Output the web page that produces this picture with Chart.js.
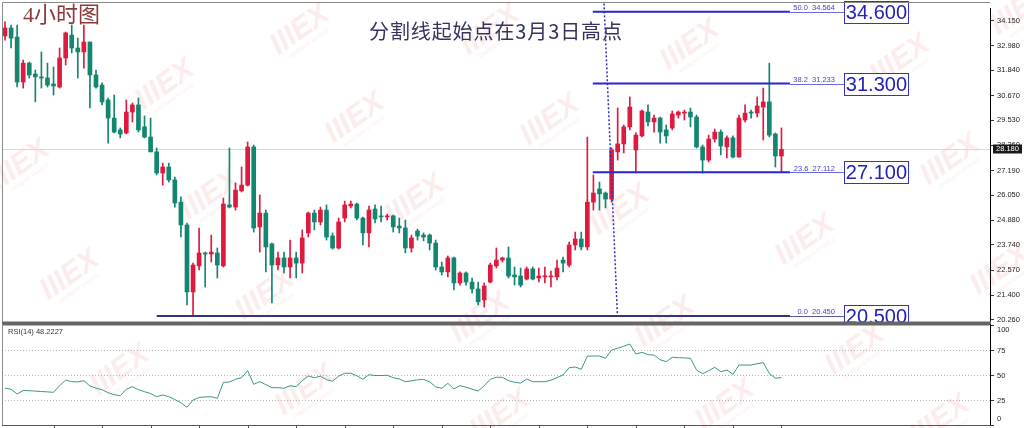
<!DOCTYPE html>
<html><head><meta charset="utf-8">
<script src="https://cdn.jsdelivr.net/npm/chart.js@4.4.1/dist/chart.umd.min.js"></script>
<style>
html,body{margin:0;padding:0;background:#fff;overflow:hidden}
#wrap{position:relative;width:1024px;height:428px;overflow:hidden}
canvas{position:absolute;left:0}
#c1{top:0}
#c2{top:324px}
.t{position:absolute;white-space:nowrap;line-height:1}
</style></head><body>
<div id="wrap">
<canvas id="c1" width="1024" height="324"></canvas>
<canvas id="c2" width="1024" height="104"></canvas>
<div class="t" style="left:23px;top:4px;font-size:22px;font-family:'Liberation Serif','Noto Sans CJK SC';color:#8b3a3a">4小时图</div>
<div class="t" style="left:369px;top:21px;font-size:20px;letter-spacing:0.9px;font-family:'Noto Sans CJK SC';color:#34345e">分割线起始点在3月3日高点</div>
</div>
<script>
// ---- data ----
const opens  = [33.44,33.81,33.39,31.30,32.18,31.67,31.54,31.49,31.21,31.07,32.42,33.48,32.88,32.70,33.16,31.63,31.16,30.47,29.63,29.08,28.94,29.91,30.24,29.22,28.75,28.06,27.08,27.36,26.76,25.73,24.67,21.56,22.77,23.37,23.32,23.37,22.77,25.60,25.50,26.25,26.52,28.29,24.58,25.22,23.79,22.81,23.14,22.72,23.14,22.90,24.30,25.22,24.81,25.36,24.16,23.60,24.99,25.55,25.64,24.99,24.30,25.41,25.09,25.04,25.09,24.62,24.53,23.60,24.39,24.20,24.20,23.83,22.72,22.49,23.14,21.98,22.44,22.02,21.70,21.19,22.02,22.77,23.04,23.14,22.35,22.30,22.16,22.63,22.21,22.26,22.26,22.26,23.04,22.81,23.74,24.02,23.65,25.73,26.34,26.15,25.87,28.06,28.43,29.22,28.15,28.80,29.91,29.45,29.63,29.08,29.17,29.77,29.86,29.91,29.68,28.29,27.68,28.66,28.98,28.29,28.71,27.82,29.54,29.91,29.86,30.14,30.38,28.89,27.87];
const highs  = [34.09,33.95,33.95,32.32,32.23,31.86,32.70,32.18,32.00,32.88,33.62,33.95,33.34,33.95,33.16,31.86,31.26,30.56,30.70,29.17,30.47,30.33,30.56,29.73,29.63,28.24,27.54,27.54,26.89,25.97,24.76,22.90,24.53,23.41,24.20,23.60,25.92,28.24,26.62,27.36,28.52,28.38,26.06,25.36,23.83,23.41,23.41,23.97,23.41,24.44,25.27,25.36,25.50,25.60,24.30,24.99,25.78,25.78,25.69,25.04,25.55,25.60,25.55,25.18,25.13,24.99,24.90,24.20,24.48,24.30,24.25,23.97,22.95,23.23,23.18,22.49,22.49,22.21,22.02,21.98,22.90,23.60,23.18,23.65,22.72,22.67,22.72,22.72,22.67,22.72,22.53,23.04,23.18,23.88,24.34,24.34,28.75,26.99,26.66,26.20,28.24,30.10,29.31,30.61,28.94,30.00,30.24,29.77,29.68,29.31,29.96,29.96,30.00,30.10,29.77,28.38,28.84,29.12,29.08,28.80,28.80,29.77,30.24,30.00,30.61,31.02,32.18,28.94,29.17];
const lows   = [33.25,32.88,31.07,31.02,31.49,30.38,31.02,31.07,30.70,31.02,32.09,32.65,31.49,31.95,30.10,31.02,30.24,28.47,28.94,28.71,28.89,29.45,28.98,28.71,28.06,26.99,26.52,26.66,25.50,24.11,20.96,20.45,22.58,21.79,22.95,22.21,22.72,25.46,25.36,26.20,26.48,24.34,23.41,22.49,21.05,22.58,22.44,22.21,22.21,22.44,24.11,24.44,24.67,23.97,23.55,23.55,24.81,25.46,24.90,23.74,23.65,24.76,24.81,24.90,24.34,24.30,23.37,23.41,23.97,23.93,23.51,22.58,22.35,22.26,21.65,21.88,21.88,21.51,20.96,20.86,21.98,22.67,22.95,22.21,21.88,21.79,22.12,22.12,22.02,21.98,21.79,22.12,22.49,22.72,23.51,23.51,23.51,25.36,25.36,25.46,25.73,27.68,28.01,29.08,27.08,28.75,29.26,28.98,28.47,28.47,29.08,29.63,29.54,29.22,28.24,27.08,27.59,28.52,27.92,27.78,27.78,27.82,29.45,29.63,29.68,28.61,28.75,27.36,27.13];
const closes = [33.81,33.34,31.30,32.18,31.63,31.54,31.49,31.16,31.12,32.42,33.58,32.88,32.70,33.16,31.63,31.07,30.38,29.63,28.98,28.89,29.91,30.24,29.08,28.75,28.06,27.08,27.36,26.76,25.69,24.67,21.56,22.81,23.37,23.32,23.41,22.81,25.64,25.50,26.29,26.52,28.29,24.53,25.22,23.65,22.81,23.14,22.72,23.14,22.90,24.07,25.22,24.81,25.36,24.11,23.60,24.81,25.60,25.64,24.99,24.30,25.36,24.95,25.04,25.09,24.58,24.53,23.60,24.07,24.16,24.11,23.83,22.72,22.49,23.14,21.98,22.44,22.02,21.70,21.10,21.84,22.81,23.04,23.14,22.30,22.26,21.88,22.63,22.16,22.30,22.30,22.30,22.67,22.90,23.74,24.02,23.65,25.73,26.15,26.11,25.87,28.15,28.43,29.22,30.14,28.84,29.96,29.45,29.63,28.98,28.80,29.82,29.91,29.91,29.68,28.29,27.68,28.66,28.98,28.33,28.71,27.82,29.63,29.86,29.86,30.19,30.38,28.84,27.87,28.18];
const rsi = [37.5,36.5,31.7,35.2,35,34.6,34.2,33.8,33.4,40,45.7,44,43.8,45,39.7,37.5,36,33,31,30,36.5,39,36,34,32.2,29,30.7,29,26.2,23,18.4,25.7,28.2,28.8,29,27.4,43.4,43.7,46.4,48,55,41.4,44,41,38,38,37.5,40,39,45,49.7,48,49.5,46,44.5,49.5,52.4,52.4,50,46.4,51,50.2,50.2,50.4,48,46.7,44,44.8,45.9,46.3,44,38.8,37.5,42.4,36.8,40,38.5,36.5,34.7,40,46.4,48.4,48.4,45,43.5,42.6,46.7,44,44,44,45.5,48,50.8,58,58.7,56.4,69.5,69.7,69.7,67.4,75.7,77.4,79.5,81.7,71.7,73.4,71,70.7,66,64,68.4,68,67.8,67.4,55.7,52,55,58.4,54,55.7,51.4,60.7,60.7,60.7,62,63,52.4,47.4,48.2];
const priceTicks = [34.150,32.980,31.840,30.670,29.530,28.360,27.190,26.050,24.880,23.740,22.570,21.400,20.260];
const rsiTicks = [100,75,50,25,0];
const fibLevels = [34.564,31.233,27.112,20.450];
const fibPercents = ['50.0','38.2','23.6','0.0'];
const fibBoxLabels = ['34.600','31.300','27.100','20.500'];
const fibStart = [96.9,96.9,96.9,25.0];
const fibLineEnd = 129.4;
const fibBoxAt = 138.3;
const splitLine = [{x:98.75,y:34.95},{x:100.97,y:20.40}];
const lastPrice = 28.180;
const rsiLabel = 'RSI(14) 48.2227';
const xTickEvery = 8;

// ---- layout constants ----
const XMIN = -0.495, XMAX = 162.38;
const YMIN = 20.167, YMAX = 34.737;
const UP = '#de1a3f', DOWN = '#12866f';
const colors = opens.map((o,i)=> closes[i] >= o ? UP : DOWN);

const wmPos = [[20,165],[165,85],[300,30],[355,118],[210,195],[70,275],[265,295],[120,370],[305,390],[415,200],[490,30],[550,120],[620,210],[480,318],[500,415],[690,45],[900,60],[950,160],[805,240],[665,322],[725,405],[855,350],[940,420],[1020,10],[1000,270]];
function drawWatermarks(ctx, offY){
  ctx.save();
  wmPos.forEach(([x,y])=>{
    ctx.save();
    ctx.translate(x, y-offY);
    ctx.rotate(-0.62);
    ctx.textAlign='center'; ctx.textBaseline='middle';
    ctx.fillStyle='rgba(228,110,110,0.13)';
    ctx.font='bold italic 30px "Liberation Sans"';
    ctx.fillText('IIIEX',0,0);
    ctx.font='6px "Liberation Sans"';
    ctx.fillText('Intelligent Investor',0,16);
    ctx.restore();
  });
  ctx.restore();
}

const mainPlugin = {
  id:'mainPlugin',
  beforeDatasetsDraw(chart){
    const {ctx, chartArea:a, scales:{y}} = chart;
    drawWatermarks(ctx, 0);
    const py = Math.round(y.getPixelForValue(lastPrice))+0.5;
    ctx.save();
    ctx.strokeStyle='#d8d8d8'; ctx.lineWidth=1;
    ctx.beginPath(); ctx.moveTo(a.left, py); ctx.lineTo(a.right, py); ctx.stroke();
    ctx.restore();
  },
  afterDatasetsDraw(chart){
    const {ctx, scales:{x,y}} = chart;
    ctx.save();
    fibLevels.forEach((lv,k)=>{
      const py = y.getPixelForValue(lv);
      const x0 = x.getPixelForValue(fibLineEnd);
      const xb = x.getPixelForValue(fibBoxAt);
      ctx.strokeStyle = k===3 ? '#5a5a9a' : '#6b6be0'; ctx.lineWidth=1;
      ctx.beginPath(); ctx.moveTo(x0, Math.round(py)+0.5); ctx.lineTo(xb, Math.round(py)+0.5); ctx.stroke();
      ctx.font='7.5px "Liberation Sans"'; ctx.fillStyle='#4444cc';
      ctx.textAlign='right'; ctx.textBaseline='alphabetic';
      ctx.fillText(fibPercents[k]+'  '+lv.toFixed(3), xb-9, py-1.5);
      const bw=64, bh=22;
      const by = Math.round(py - bh/2)+0.5;
      ctx.fillStyle='#fff'; ctx.fillRect(xb+0.5, by, bw, bh);
      ctx.strokeStyle='#3434c4'; ctx.strokeRect(Math.round(xb)+0.5, by, bw, bh);
      ctx.fillStyle='#2222b4'; ctx.font='20px "Liberation Sans"';
      ctx.textAlign='center'; ctx.textBaseline='middle';
      ctx.fillText(fibBoxLabels[k], xb+bw/2+0.5, by+bh/2+1);
    });
    ctx.restore();
  },
  afterDraw(chart){
    const {ctx, chartArea:a, scales:{y}} = chart;
    ctx.save();
    ctx.strokeStyle='#8a8a8a'; ctx.lineWidth=1;
    ctx.beginPath(); ctx.moveTo(2.5,324); ctx.lineTo(2.5,2.5); ctx.lineTo(a.right,2.5); ctx.stroke();
    ctx.fillStyle='#666'; ctx.fillRect(2, 321.5, a.right-2+1, 2.5);
    const py = y.getPixelForValue(lastPrice);
    ctx.fillStyle='#1a1a1a'; ctx.fillRect(993, Math.round(py)-4.5, 29, 9);
    ctx.fillStyle='#fff'; ctx.font='7.5px "Liberation Sans"'; ctx.textAlign='left'; ctx.textBaseline='middle';
    ctx.fillText(lastPrice.toFixed(3), 996, Math.round(py));
    ctx.restore();
  }
};

new Chart(document.getElementById('c1'), {
  type:'bar',
  data:{datasets:[
    ...fibLevels.map((lv,k)=>({type:'line', data:[{x:fibStart[k],y:lv},{x:fibLineEnd,y:lv}], borderColor: k===3?'#34347a':'#2626d4', borderWidth:2, pointRadius:0, order:0})),
    {type:'line', data:splitLine, borderColor:'#3030c0', borderWidth:1.5, borderDash:[2,2], pointRadius:0, clip:false, order:0},
    {label:'wick', data: lows.map((l,i)=>({x:i,y:[l,highs[i]]})), backgroundColor:colors, barThickness:1, grouped:false, order:3},
    {label:'body', data: opens.map((o,i)=>({x:i,y:[o,closes[i]]})), backgroundColor:colors, barThickness:4, minBarLength:1, grouped:false, order:2}
  ]},
  options:{
    responsive:false, animation:false, events:[],
    layout:{padding:{left:2,top:8,right:0,bottom:2}},
    plugins:{legend:{display:false},tooltip:{enabled:false}},
    scales:{
      x:{type:'linear',min:XMIN,max:XMAX,offset:false,display:false},
      y:{type:'linear',position:'right',min:YMIN,max:YMAX,
         afterBuildTicks(s){s.ticks=priceTicks.map(v=>({value:v}));},
         afterFit(s){s.width=34;s.paddingTop=0;s.paddingBottom=0;},
         ticks:{callback:v=>v.toFixed(3),font:{size:7.5,family:'Liberation Sans'},color:'#222',padding:3,autoSkip:false},
         grid:{drawOnChartArea:false,tickLength:4,tickColor:'#333'},
         border:{display:true,color:'#000'}}
    }
  },
  plugins:[mainPlugin]
});

const rsiPlugin = {
  id:'rsiPlugin',
  beforeDatasetsDraw(chart){ drawWatermarks(chart.ctx, 324); },
  afterDraw(chart){
    const {ctx, chartArea:a, scales:{x,y}} = chart;
    ctx.save();
    ctx.fillStyle='#666'; ctx.fillRect(2,0,a.right-2+1,1.5);
    ctx.strokeStyle='#8a8a8a'; ctx.lineWidth=1;
    ctx.beginPath(); ctx.moveTo(2.5,0); ctx.lineTo(2.5,101.5); ctx.stroke();
    ctx.strokeStyle='#000';
    ctx.beginPath(); ctx.moveTo(a.right+0.5,0); ctx.lineTo(a.right+0.5,101.5); ctx.stroke();
    ctx.strokeStyle='#555';
    ctx.beginPath(); ctx.moveTo(2,101.5); ctx.lineTo(a.right+1,101.5); ctx.stroke();
    for(let i=xTickEvery;i<=opens.length;i+=xTickEvery){
      const px=Math.round(x.getPixelForValue(i))+0.5;
      ctx.beginPath(); ctx.moveTo(px,101.5); ctx.lineTo(px,104); ctx.stroke();
    }
    ctx.fillStyle='#222'; ctx.font='7.5px "Liberation Sans"'; ctx.textAlign='left'; ctx.textBaseline='middle';
    rsiTicks.forEach(v=>{
      let py=y.getPixelForValue(v);
      py=Math.min(Math.max(py,a.top+4.3),a.bottom-6.7);
      ctx.fillText(String(v), a.right+7, py);
    });
    ctx.fillStyle='#333'; ctx.font='7.5px "Liberation Sans"'; ctx.textBaseline='middle';
    ctx.fillText(rsiLabel, 8, 8);
    ctx.restore();
  }
};

new Chart(document.getElementById('c2'), {
  type:'line',
  data:{datasets:[{data: rsi.map((v,i)=>({x:i,y:v})), borderColor:'#3a968a', borderWidth:1, pointRadius:0, tension:0}]},
  options:{
    responsive:false, animation:false, events:[],
    layout:{padding:{left:2,top:1.7,right:0,bottom:2.3}},
    plugins:{legend:{display:false},tooltip:{enabled:false}},
    scales:{
      x:{type:'linear',min:XMIN,max:XMAX,offset:false,display:false},
      y:{position:'right',min:0,max:100,
         afterBuildTicks(s){s.ticks=rsiTicks.map(v=>({value:v}));},
         afterFit(s){s.width=34;s.paddingTop=0;s.paddingBottom=0;},
         ticks:{display:false},
         grid:{color:c=>(c.tick && (c.tick.value===0||c.tick.value===100))?'rgba(0,0,0,0)':'#b5b5b5',tickColor:'#333',tickLength:4},
         border:{display:false,dash:[1,2]}}
    }
  },
  plugins:[rsiPlugin]
});
</script>
</body></html>
